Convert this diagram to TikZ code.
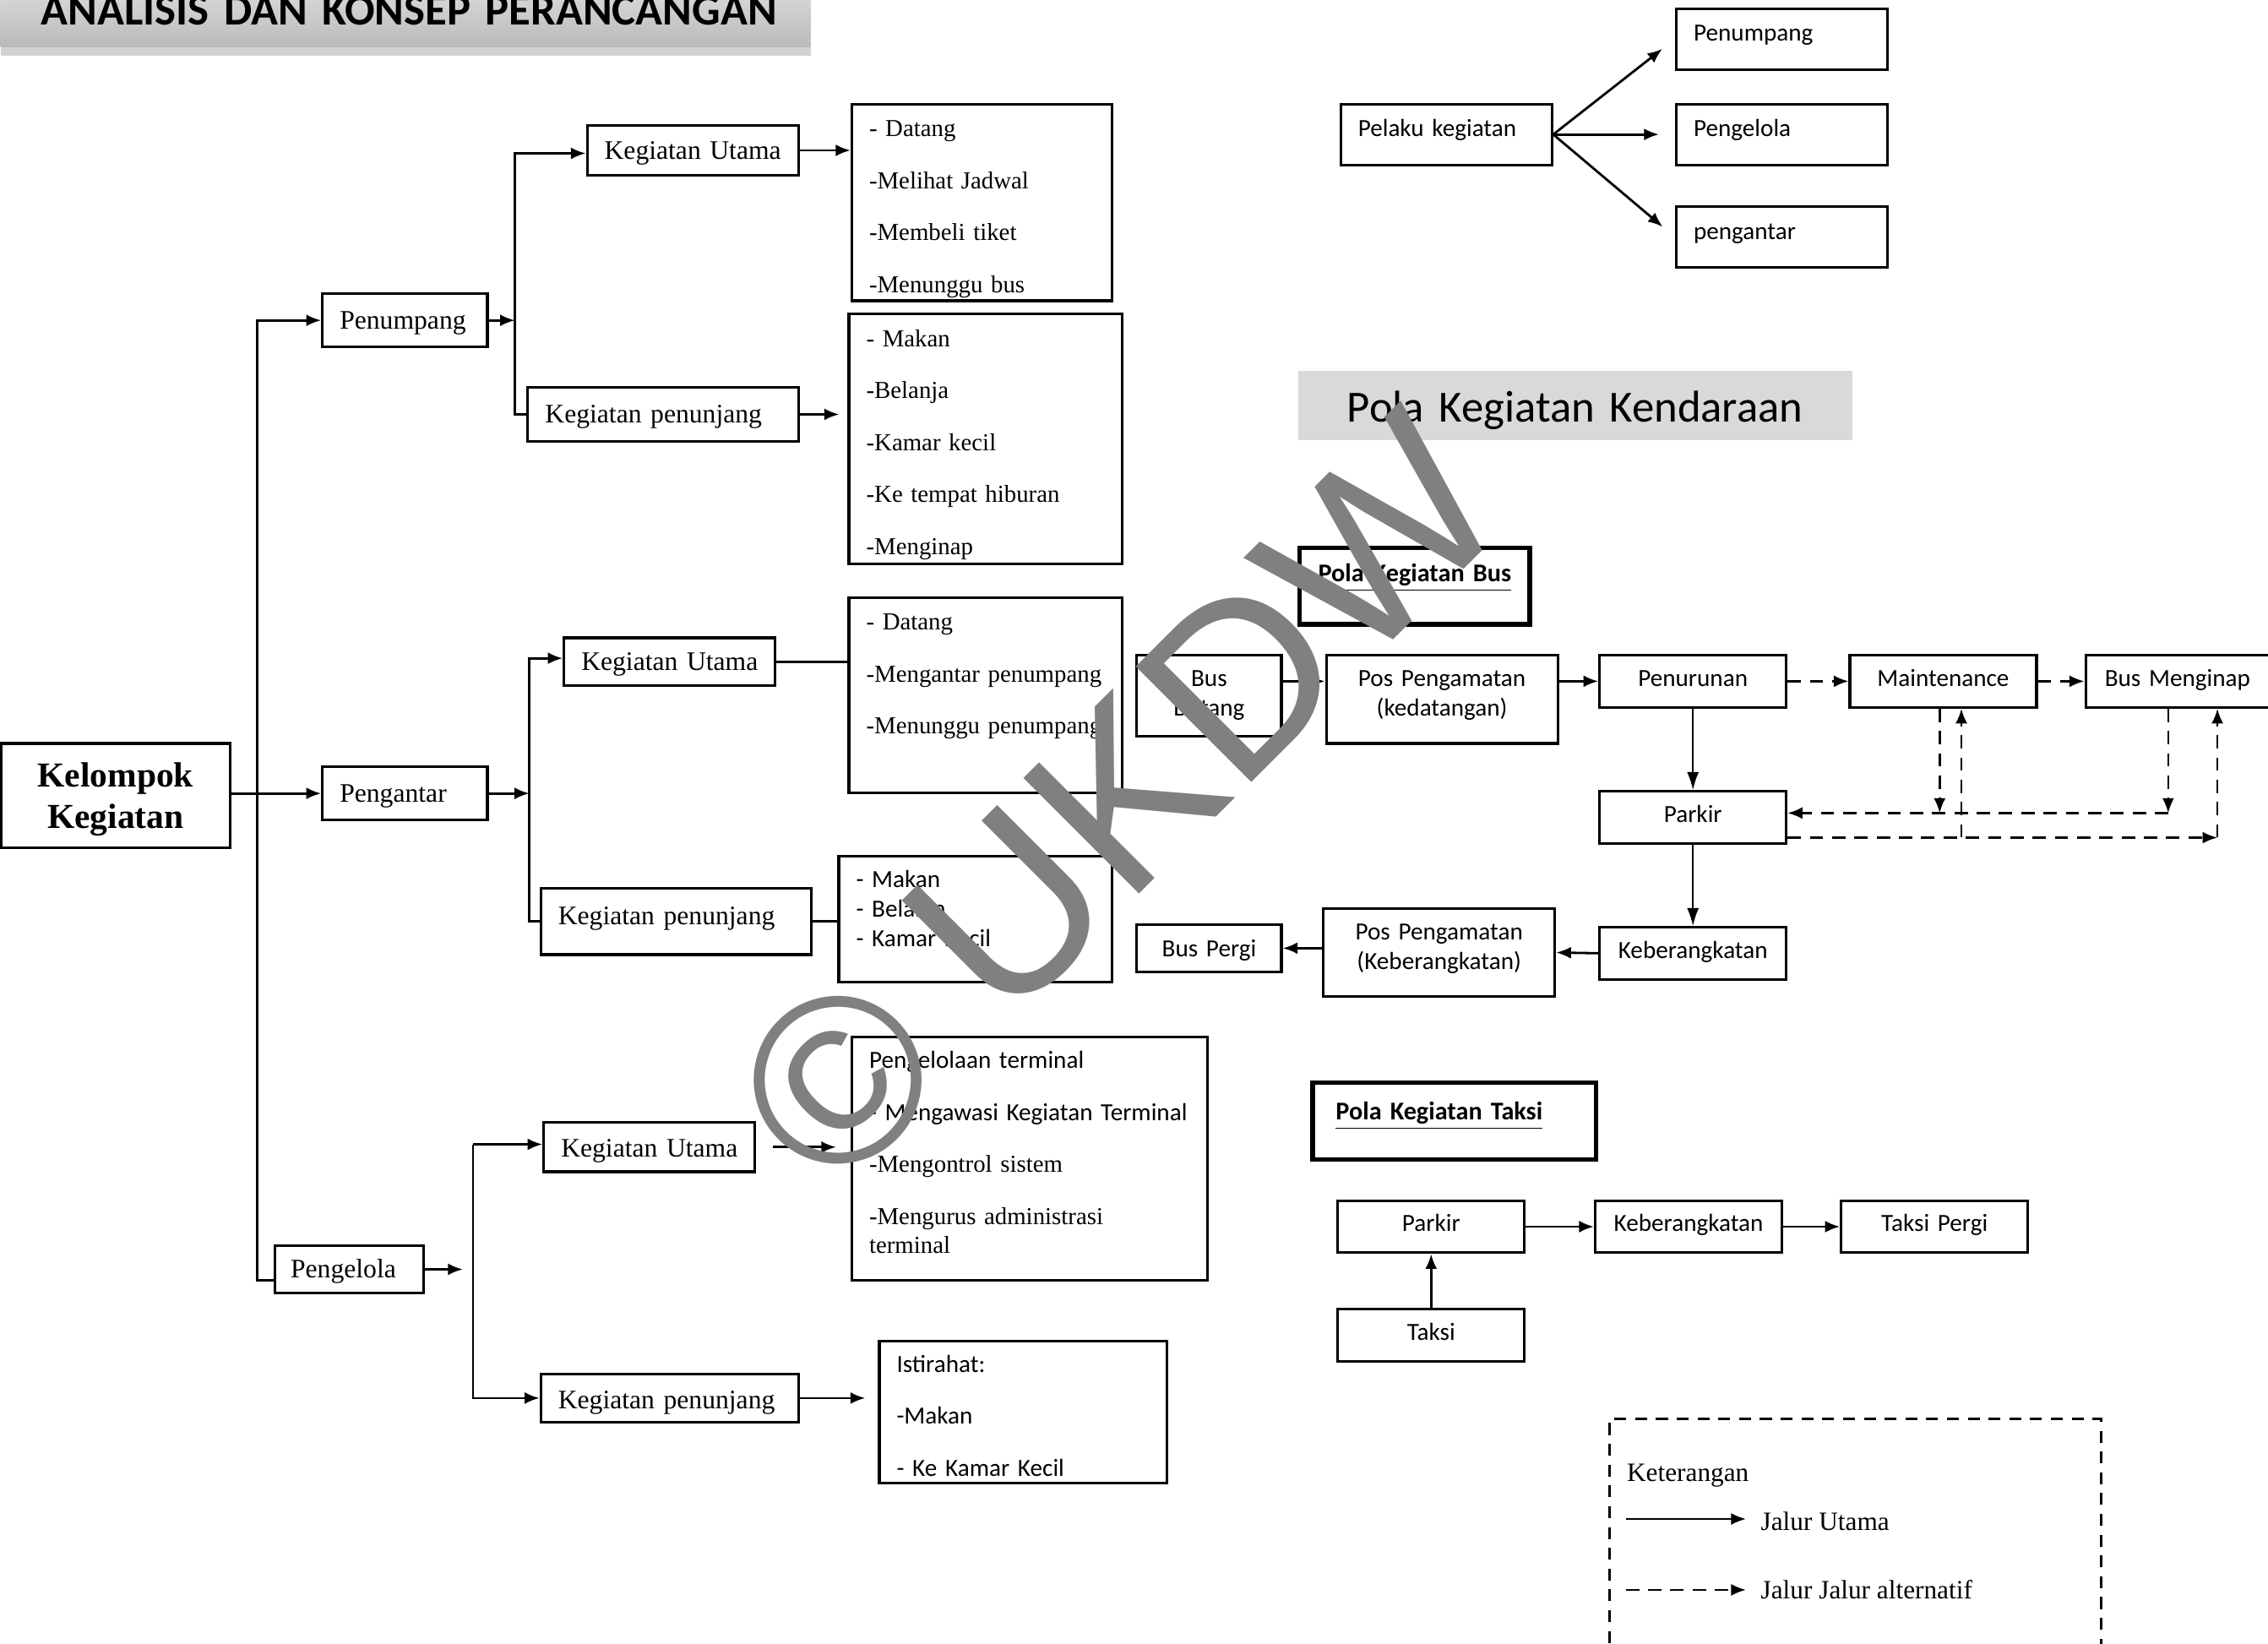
\documentclass[tikz,border=0pt]{standalone}
\usepackage{fontspec}
\setmainfont{Liberation Serif}
\setsansfont{Carlito}
\newfontfamily\wmfont{Liberation Sans}
\usetikzlibrary{arrows.meta,shadows}
\newcommand\pxu{0.017124cm}
\tikzset{
	tb/.code n args={4}{%
		\pgfmathsetlengthmacro\tbw{(#1-2*(#4))*\pxu}%
		\pgfmathsetlengthmacro\tbh{(#3)*\pxu}%
		\pgfmathsetlengthmacro\tbd{(#2-(#3))*\pxu}%
		\pgfmathsetlengthmacro\tbx{(#4)*\pxu}%
		\edef\tbset{\noexpand\tikzset{anchor=north west,align=left,inner ysep=0pt,inner xsep=\tbx,text width=\tbw,text height=\tbh,text depth=\tbd}}%
		\tbset},
}
\begin{document}
\begin{tikzpicture}[x=\pxu,y=-\pxu,
		bx/.style={draw,line width=0.9pt},
		srf/.style={font=\fontsize{9}{11}\selectfont},
		lst/.style={font=\fontsize{8.2}{17.5}\selectfont},
		snf/.style={font=\sffamily\fontsize{8.3}{10}\selectfont},
		ttlbox/.style={draw,line width=1.5pt,font=\sffamily\bfseries\fontsize{8.6}{10}\selectfont},
		ar/.style={line width=0.8pt,-{Latex[length=5pt,width=4pt]}},
		alt/.style={ar,line width=0.7pt,dash pattern=on 4.5pt off 3pt},
		vln/.style={line width=0.5pt,-{Latex[length=6pt,width=4pt]}}]
	\useasboundingbox (0,0) rectangle (1568,1136);
	\fill[white] (0,0) rectangle (1568,1136);

	\node[tb={560}{62}{47}{28},top color=black!8,bottom color=black!27,
		drop shadow={opacity=0.35,shadow xshift=0pt,shadow yshift=-3pt},
		font=\sffamily\bfseries\fontsize{15}{18}\selectfont] (ttl) at (0,-30) {\mbox{ANALISIS DAN KONSEP PERANCANGAN}};

	\node[tb={158}{72}{30}{0},align=center,bx,font=\bfseries\fontsize{11.8}{14.1}\selectfont] (kk) at (0,513) {Kelompok\\Kegiatan};
	\node[tb={114}{37}{24.5}{12},bx,srf] (pnp) at (222,202) {Penumpang};
	\node[tb={114}{37}{24.5}{12},bx,srf] (pgt) at (222,529) {Pengantar};
	\node[tb={103}{33}{22.5}{11},bx,srf] (pgl) at (189,860) {Pengelola};

	\node[tb={146}{34}{23}{12},bx,srf] (pku) at (405,86) {Kegiatan~Utama};
	\node[tb={187}{37}{24.5}{12},bx,srf] (ppj) at (364,267) {Kegiatan~penunjang};
	\node[tb={146}{33}{22.5}{12},bx,srf] (aku) at (389,440) {Kegiatan~Utama};
	\node[tb={187}{46}{25}{12},bx,srf] (apj) at (373,613) {Kegiatan~penunjang};
	\node[tb={146}{34}{24}{12},bx,srf] (lku) at (375,775) {Kegiatan~Utama};
	\node[tb={178}{33}{24}{12},bx,srf] (lpj) at (373,949) {Kegiatan~penunjang};

	\node[tb={180}{136}{22.5}{12},bx,lst] (l1) at (588,71)
		{- Datang\\-Melihat~Jadwal\\-Membeli~tiket\\-Menunggu~bus};
	\node[tb={189}{173}{22.5}{12},bx,lst] (l2) at (586,216)
		{- Makan\\-Belanja\\-Kamar~kecil\\-Ke~tempat~hiburan\\-Menginap};
	\node[tb={189}{135}{22.5}{12},bx,lst] (l3) at (586,412)
		{- Datang\\-Mengantar~penumpang\\-Menunggu~penumpang};
	\node[tb={189}{87}{21.5}{12},bx,snf] (l4) at (579,591)
		{- Makan\\- Belanja\\- Kamar~Kecil};
	\node[tb={246}{168}{21.5}{12},bx,font=\fontsize{8.2}{9.7}\selectfont] (l5) at (588,716)
		{{\sffamily\fontsize{8.3}{9.7}\selectfont Pengelolaan~terminal}\\[7.8pt]
		{\sffamily\fontsize{8.3}{9.7}\selectfont - Mengawasi~Kegiatan~Terminal}\\[7.8pt]
		-Mengontrol~sistem\\[7.8pt]
		-Mengurus~administrasi\\
		terminal};
	\node[tb={199}{98}{21.5}{12},bx,font=\sffamily\fontsize{8.3}{17.5}\selectfont] (l6) at (607,926)
		{Istirahat:\\-Makan\\- Ke~Kamar~Kecil};

	\draw[ar] (kk.east |- pgt.west) -- (pgt.west);
	\coordinate (ax1) at (178,885);
	\draw[ar] (pgl.west |- ax1) -- (ax1) |- (pnp.west);

	\coordinate (ax2) at (356,106);
	\draw[ar] (pnp.east) -- (pnp.east -| ax2);
	\draw[ar] (ppj.west) -| (ax2) -- (ax2 -| pku.west);
	\draw[ar] (pku.east) -- (pku.east -| l1.west);
	\draw[ar,shorten >=0.1cm] (ppj.east) -- (ppj.east -| l2.west);

	\coordinate (ax3) at (366,455);
	\draw[ar] (pgt.east) -- (pgt.east -| ax3);
	\draw[ar] (apj.west) -| (ax3) -- (ax3 -| aku.west);
	\draw[line width=0.8pt] (aku.east) -- (aku.east -| l3.west);
	\draw[line width=0.8pt] (apj.east) -- (apj.east -| l4.west);

	\coordinate (ax4) at (327,791);
	\draw[ar,shorten >=0.12cm] (pgl.east) -- (pgl.east -| ax4);
	\draw[ar] (ax4) |- (lpj.west);
	\draw[ar] (ax4) -- (ax4 -| lku.west);
	\draw[ar,shorten <=0.2cm,shorten >=0.17cm] (lku.east) -- (lku.east -| l5.west);
	\draw[ar,shorten >=0.15cm] (lpj.east) -- (lpj.east -| l6.west);

	\node[tb={146}{42}{22.5}{12},bx,snf] (pk) at (926,71) {Pelaku kegiatan};
	\node[tb={146}{42}{22.5}{12},bx,snf] (rp) at (1158,5) {Penumpang};
	\node[tb={146}{42}{22.5}{12},bx,snf] (rg) at (1158,71) {Pengelola};
	\node[tb={146}{42}{22.5}{12},bx,snf] (ra) at (1158,142) {pengantar};
	\foreach \t in {rp,rg,ra}
		\draw[ar,shorten >=0.19cm] (pk.east) -- (\t.west);

	\node[tb={383}{48}{35}{0},align=center,fill=black!15,font=\sffamily\fontsize{15}{18}\selectfont] (kdr) at (897,256) {Pola Kegiatan Kendaraan};

	\node[tb={159}{53}{23.5}{0},align=center,ttlbox] (bt) at (897,377) {\underline{Pola Kegiatan Bus}};
	\node[tb={100}{56}{21.5}{4},align=center,bx,snf] (bd) at (785,452) {Bus\\Datang};
	\node[tb={160}{61}{21.5}{4},align=center,bx,snf] (pos1) at (916,452) {Pos Pengamatan\\(kedatangan)};
	\node[tb={129}{36}{21.5}{4},align=center,bx,snf] (pen) at (1105,452) {Penurunan};
	\node[tb={129}{36}{21.5}{4},align=center,bx,snf] (mnt) at (1278,452) {Maintenance};
	\node[tb={127}{36}{21.5}{4},align=center,bx,snf] (bm) at (1441,452) {Bus Menginap};
	\node[tb={129}{36}{21.5}{4},align=center,bx,snf] (prk) at (1105,546) {Parkir};
	\node[tb={129}{36}{21.5}{4},align=center,bx,snf] (keb) at (1105,640) {Keberangkatan};
	\node[tb={160}{61}{21.5}{4},align=center,bx,snf] (pos2) at (914,627) {Pos Pengamatan\\(Keberangkatan)};
	\node[tb={100}{33}{22.5}{4},align=center,bx,snf] (bp) at (785,638) {Bus Pergi};

	\draw[ar] (bd.east |- pen.west) -- (pos1.west |- pen.west);
	\draw[ar] (pos1.east |- pen.west) -- (pen.west);
	\draw[alt] (pen.east) -- (mnt.west);
	\draw[alt] (mnt.east) -- (bm.west);
	\draw[vln] (pen.south) -- (prk.north);
	\draw[vln] (prk.south) -- (keb.north);
	\draw[ar] (keb.west) -- (pos2.east);
	\draw[ar] (pos2.west |- bp.east) -- (bp.east);
	\coordinate (d1) at (1341,562);
	\coordinate (d2) at (1499,562);
	\coordinate (d3) at (1533,579);
	\coordinate (d4) at (1356,579);
	\draw[alt] (d1 |- mnt.south) -- (d1);
	\draw[alt] (d2 |- bm.south) -- (d2);
	\draw[alt] (d2) -- (d2 -| prk.east);
	\draw[alt] (d3 -| prk.east) -- (d3);
	\draw[alt] (d3) -- (d3 |- bm.south);
	\draw[alt] (d4) -- (d4 |- mnt.south);

	\node[tb={196}{53}{25.5}{16},ttlbox] (tt) at (906,747) {\underline{Pola Kegiatan Taksi}};
	\node[tb={129}{36}{21.5}{4},align=center,bx,snf] (tp) at (924,829) {Parkir};
	\node[tb={129}{36}{21.5}{4},align=center,bx,snf] (tk) at (1102,829) {Keberangkatan};
	\node[tb={129}{36}{21.5}{4},align=center,bx,snf] (tpg) at (1272,829) {Taksi Pergi};
	\node[tb={129}{36}{21.5}{4},align=center,bx,snf] (tx) at (924,904) {Taksi};
	\draw[ar] (tp.east) -- (tk.west);
	\draw[ar] (tk.east) -- (tpg.west);
	\draw[ar] (tx.north) -- (tp.south);

	\node[tb={340}{165}{43}{12},draw,line width=0.8pt,dash pattern=on 4pt off 3pt,font=\fontsize{8.9}{11}\selectfont] (ket) at (1112,980) {Keterangan};
	\coordinate (la) at (1124,1050);
	\coordinate (lb) at (1207,1050);
	\coordinate (lc) at (1124,1099);
	\coordinate (ld) at (1207,1099);
	\draw[ar,line width=0.6pt] (la) -- (lb);
	\draw[alt,line width=0.6pt] (lc) -- (ld);
	\node[anchor=base west,inner sep=0pt,font=\fontsize{8.9}{11}\selectfont] (ju) at (1217,1058) {Jalur Utama};
	\node[anchor=base west,inner sep=0pt,font=\fontsize{8.9}{11}\selectfont] (ja) at (1217,1105) {Jalur Jalur alternatif};

	\node[text=black!50,font=\wmfont\fontsize{80}{80}\selectfont,rotate=45] (wm) at (773,553) {© UKDW};
\end{tikzpicture}
\end{document}
